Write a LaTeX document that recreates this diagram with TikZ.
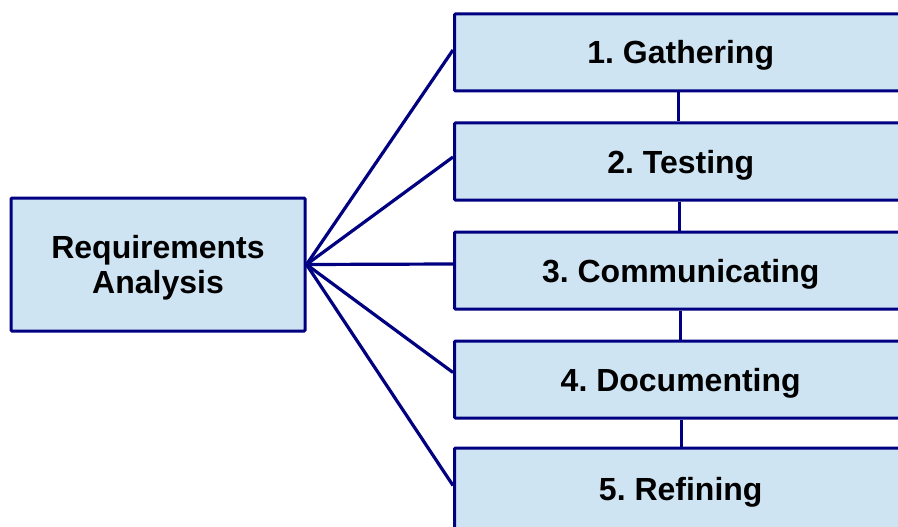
\documentclass[tikz,border=0pt]{standalone}
\usepackage{fontspec}
\setmainfont{Liberation Sans}
\frenchspacing
\definecolor{navy}{HTML}{000080}
\definecolor{paleblue}{HTML}{CFE4F3}
\begin{document}
\begin{tikzpicture}[x=1pt,y=-1pt,
  box/.style={draw=navy, fill=paleblue, line width=3pt, rounded corners=1pt,
    inner sep=0pt, align=center, text depth=0pt,
    font=\fontsize{32}{35}\selectfont\bfseries},
  stage/.style={box, minimum width=452.5pt, minimum height=77pt, text height=23pt},
  link/.style={draw=navy, line width=3.2pt}]
\useasboundingbox (0,0) rectangle (898,527);

% central topic
\node[box, minimum width=294pt, minimum height=133pt] (ra) at (158,264.5)
  {Requirements\\Analysis};

% the five stages
\node[stage] (s1) at (680.75,52.5)  {1. Gathering};
\node[stage] (s2) at (680.75,161.5) {2. Testing};
\node[stage] (s3) at (680.75,270.5) {3. Communicating};
\node[stage] (s4) at (680.75,379.5) {4. Documenting};
\node[stage, minimum height=82pt] (s5) at (680.75,489) {5. Refining};

% fan-out from the topic to each stage
\draw[link] (ra.east) -- ([yshift=2.5pt]s1.west);
\draw[link] (ra.east) -- ([yshift=4.5pt]s2.west);
\draw[link] (ra.east) -- ([yshift=6.5pt]s3.west);
\draw[link] (ra.east) -- ([yshift=7pt]s4.west);
\draw[link] (ra.east) -- ([yshift=3.5pt]s5.west);

% chain between consecutive stages
\draw[link] ([xshift=-2pt]s1.south) -- ([xshift=-2pt]s2.north);
\draw[link] ([xshift=-1pt]s2.south) -- ([xshift=-1pt]s3.north);
\draw[link] (s3.south) -- (s4.north);
\draw[link] ([xshift=1pt]s4.south) -- ([xshift=1pt]s5.north);
\end{tikzpicture}
\end{document}
